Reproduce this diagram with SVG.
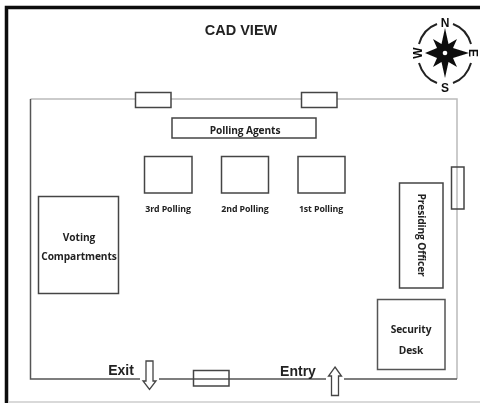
<svg xmlns="http://www.w3.org/2000/svg" width="480" height="403" viewBox="0 0 480 403">
<style>
.box{fill:#fff;stroke:#444;stroke-width:1.5}
.door{fill:#fff;stroke:#444;stroke-width:1.5}
.open{fill:none;stroke:#444;stroke-width:1.5}
.wall{fill:none;stroke:#555;stroke-width:1.5}
.light{fill:none;stroke:#bbb;stroke-width:1.5}
text{font-family:"Open Sans","Liberation Sans",sans-serif;font-weight:700;fill:#222;text-anchor:middle}
.s{font-size:8.8px;letter-spacing:-.1px}
.m{font-size:10.2px;letter-spacing:-.1px}
.h{font-family:"Liberation Sans",sans-serif;font-weight:700;font-size:14.5px}
.c{font-family:"Liberation Sans",sans-serif;font-weight:700;font-size:12px;fill:#111}
.arrow{fill:#fff;stroke:#444;stroke-width:1.3}
</style>
<defs><filter id="b" x="-5%" y="-5%" width="110%" height="110%"><feGaussianBlur stdDeviation="0.45"/></filter></defs>
<rect width="480" height="403" fill="#fff"/>
<g filter="url(#b)">
<g id="frame">
<path d="M6.500 403V7.500H480" fill="none" stroke="#111" stroke-width="3.500"/>
<path d="M8 402H480" stroke="#ccc" stroke-width="1.500"/>
</g>
<g id="connectors">
<path class="light" d="M30.500 99H457V379"/>
<path class="wall" d="M30.500 99V379H140M159 379H326M344 379H457"/>
</g>
<text class="h" x="241" y="35" style="fill:#222">CAD VIEW</text>
<g id="compass">
<path d="M437 24A28 31 0 0 0 419 44M453 24A28 31 0 0 1 471 44M419 63A28 31 0 0 0 437 83M471 63A28 31 0 0 1 453 83" fill="none" stroke="#222" stroke-width="2"/>
<polygon fill="#111" points="445,28 448.500,44 457,39 453,48 469,53 453,58 457,67 448.500,62 445,78 441.500,62 433,67 437,58 425,53 437,48 433,39 441.500,44"/>
<circle cx="445" cy="53" r="2.300" fill="#fff"/>
<text class="c" x="445" y="27">N</text>
<text class="c" x="445" y="92">S</text>
<text class="c" transform="translate(418 53) rotate(-90)" y="4">W</text>
<text class="c" transform="translate(473 53) rotate(90)" y="4">E</text>
</g>
<g id="door-top-1"><rect class="door" x="135.500" y="92.500" width="35.500" height="15"/></g>
<g id="door-top-2"><rect class="door" x="301.500" y="92.500" width="35.500" height="15"/></g>
<g id="door-right"><rect class="open" x="451.500" y="167" width="12.500" height="42"/></g>
<g id="door-bottom"><rect class="open" x="193.500" y="370.500" width="35.500" height="15.500"/></g>
<g id="polling-agents"><rect class="box" x="172" y="118" width="144" height="20"/><text class="m" x="245" y="134">Polling Agents</text></g>
<g id="polling-3"><rect class="box" x="144.500" y="156.500" width="47.500" height="36.500"/><text class="s" x="168" y="212">3rd Polling</text></g>
<g id="polling-2"><rect class="box" x="221.500" y="156.500" width="47" height="36.500"/><text class="s" x="245" y="212">2nd Polling</text></g>
<g id="polling-1"><rect class="box" x="298" y="156.500" width="47" height="36.500"/><text class="s" x="321" y="212">1st Polling</text></g>
<g id="voting"><rect class="box" x="38.500" y="196.500" width="80" height="97"/><text class="m" x="79" y="241">Voting</text><text class="m" x="79" y="260">Compartments</text></g>
<g id="presiding"><rect class="box" x="399.500" y="183" width="43.500" height="105"/><text class="m" transform="translate(421 235) rotate(90)" y="3">Presiding Officer</text></g>
<g id="security"><rect class="box" x="377.500" y="299.500" width="67.500" height="70" style="stroke:#555"/><text class="m" x="411" y="333">Security</text><text class="m" x="411" y="354">Desk</text></g>
<g id="exit"><text class="h" x="121" y="375" style="font-size:14px;fill:#222">Exit</text><polygon class="arrow" points="146,361 153,361 153,381 156,381 149.500,389.500 143,381 146,381"/></g>
<g id="entry"><text class="h" x="298" y="376" style="font-size:14px;fill:#222">Entry</text><polygon class="arrow" points="335,367 341.500,376 338.500,376 338.500,395.500 331.500,395.500 331.500,376 328.500,376"/></g>
</g>
</svg>
